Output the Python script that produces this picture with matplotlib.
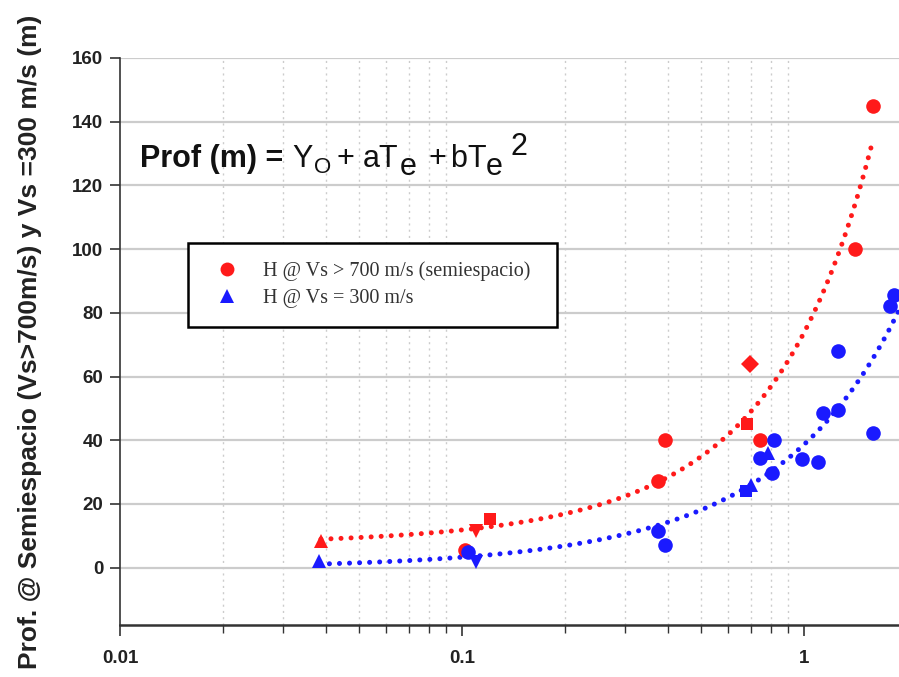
import numpy as np
import matplotlib
matplotlib.use("Agg")
import matplotlib.pyplot as plt
from matplotlib.lines import Line2D
from matplotlib.ticker import LogLocator, FixedLocator, FixedFormatter, NullFormatter

# ---------------- data ----------------
# Red series: H @ Vs > 700 m/s (semiespacio)
red_circle_x = [0.102, 0.374, 0.392, 0.745, 1.41, 1.59]
red_circle_y = [5.6, 27.2, 40.0, 40.0, 100.0, 145.0]
red_tri_x = [0.0387]
red_tri_y = [8.5]
red_vtri_x = [0.110]
red_vtri_y = [11.4]
red_square_x = [0.121, 0.684]
red_square_y = [15.2, 45.0]
red_diamond_x = [0.695]
red_diamond_y = [63.9]

# Blue series: H @ Vs = 300 m/s
blue_circle_x = [0.104, 0.374, 0.392, 0.745, 0.82, 0.81, 0.99, 1.10, 1.14, 1.26, 1.26, 1.59, 1.79, 1.84]
blue_circle_y = [4.9, 11.6, 7.2, 34.5, 40.0, 29.6, 34.1, 33.3, 48.7, 49.5, 68.0, 42.2, 82.3, 85.5]
blue_tri_x = [0.0383, 0.70, 0.786]
blue_tri_y = [2.2, 26.0, 35.9]
blue_vtri_x = [0.110]
blue_vtri_y = [1.7]
blue_square_x = [0.68]
blue_square_y = [24.0]

# Trend lines: Prof = Yo + a*Te + b*Te^2
red_fit = {"Yo": 7.2, "a": 44.0, "b": 22.4, "x0": 0.0387, "x1": 1.58}
blue_fit = {"Yo": -0.2, "a": 34.4, "b": 4.35, "x0": 0.0383, "x1": 1.90}

y_ticks = [0, 20, 40, 60, 80, 100, 120, 140, 160]
x_ticks = [0.01, 0.1, 1]
x_tick_labels = ["0.01", "0.1", "1"]
legend_labels = ["H @ Vs > 700 m/s (semiespacio)", "H @ Vs = 300 m/s"]
ylabel = "Prof. @ Semiespacio (Vs>700m/s) y Vs =300 m/s (m)"

# ---------------- figure ----------------
plt.rcParams["font.family"] = ["Liberation Sans", "DejaVu Sans"]

W, H = 899, 677
fig = plt.figure(figsize=(W / 100, H / 100), dpi=100)
ax = fig.add_axes([120 / W, 52 / H, 779 / W, 567 / H])

ax.set_xscale("log")
ax.set_xlim(0.01, 1.90)
ax.set_ylim(-18, 160)

RED = "#ff1a1a"
BLUE = "#1a1aff"

# grid
ax.set_yticks(y_ticks)
ax.yaxis.grid(True, color="#cccccc", linewidth=1.6, linestyle="-")
ax.xaxis.set_major_locator(FixedLocator(x_ticks))
ax.xaxis.set_major_formatter(FixedFormatter(x_tick_labels))
ax.xaxis.set_minor_locator(LogLocator(base=10, subs=np.arange(2, 10)))
ax.xaxis.set_minor_formatter(NullFormatter())
ax.xaxis.grid(True, which="minor", color="#cccccc", linewidth=1.0, linestyle=(0, (1.5, 3)))
ax.set_axisbelow(True)

# trend lines
for fit, col in [(red_fit, RED), (blue_fit, BLUE)]:
    xs = np.logspace(np.log10(fit["x0"]), np.log10(fit["x1"]), 400)
    ys = fit["Yo"] + fit["a"] * xs + fit["b"] * xs ** 2
    ax.plot(xs, ys, color=col, linewidth=3.6, linestyle=(0, (0.01, 2.0)),
            dash_capstyle="round", zorder=3)

ms = 10.5
groups = [
    (red_circle_x, red_circle_y, "o", RED, ms),
    (red_tri_x, red_tri_y, "^", RED, ms),
    (red_vtri_x, red_vtri_y, "v", RED, ms),
    (red_square_x, red_square_y, "s", RED, ms - 1.5),
    (red_diamond_x, red_diamond_y, "D", RED, ms - 1.5),
    (blue_circle_x, blue_circle_y, "o", BLUE, ms),
    (blue_tri_x, blue_tri_y, "^", BLUE, ms),
    (blue_vtri_x, blue_vtri_y, "v", BLUE, ms),
    (blue_square_x, blue_square_y, "s", BLUE, ms - 1.5),
]
for gx, gy, mk, col, s in groups:
    ax.plot(gx, gy, linestyle="none", marker=mk, color=col, markersize=s,
            markeredgewidth=0, zorder=4, clip_on=False)

# spines
for side in ["top", "right"]:
    ax.spines[side].set_visible(False)
ax.spines["left"].set_color("#333333")
ax.spines["left"].set_linewidth(1.2)
ax.spines["bottom"].set_color("#333333")
ax.spines["bottom"].set_linewidth(1.8)

ax.tick_params(axis="y", direction="out", length=7, width=1.2, color="#333333",
               labelsize=13.5, pad=5)
ax.tick_params(axis="x", which="major", direction="out", length=8, width=1.2,
               color="#333333", labelsize=13.5, pad=10)
ax.tick_params(axis="x", which="minor", direction="out", length=6, width=1.0,
               color="#333333")
for lab in ax.get_xticklabels() + ax.get_yticklabels():
    lab.set_fontweight("bold")
    lab.set_color("#222222")

ax.set_ylabel(ylabel, fontsize=19, fontweight="bold", color="#222222")
ax.yaxis.set_label_coords(-0.100, 0.50)

# equation  Prof (m) = Yo + aTe + bTe^2  (pieces placed in pixel positions)
def ptext(x, base_y, s, size, weight="normal"):
    fig.text(x / W, 1 - base_y / H, s, fontsize=size, fontweight=weight,
             ha="left", va="baseline", color="#111111")

ptext(140, 167, "Prof (m) =", 22, "bold")
ptext(292, 167, "Y", 22)
ptext(314, 173, "O", 16)
ptext(336, 167, "+", 22)
ptext(363, 167, "aT", 22)
ptext(400, 175, "e", 22)
ptext(428, 167, "+", 22)
ptext(450, 167, "b", 22)
ptext(467, 167, "T", 22)
ptext(486, 175, "e", 22)
ptext(510, 155, "2", 22)

# legend
handles = [
    Line2D([], [], linestyle="none", marker="o", color=RED, markersize=10, markeredgewidth=0),
    Line2D([], [], linestyle="none", marker="^", color=BLUE, markersize=10, markeredgewidth=0),
]
leg = ax.legend(handles, legend_labels, loc="upper left",
                bbox_to_anchor=(0.0873, 0.526, 0.474, 0.148), mode="expand",
                borderaxespad=0, fancybox=False, framealpha=1, edgecolor="black",
                prop={"family": ["Liberation Serif"], "size": 14.5},
                borderpad=0.93, labelspacing=0.4, handletextpad=0.73, handlelength=2.04)
leg.get_frame().set_linewidth(1.8)
for t in leg.get_texts():
    t.set_color("#333333")

fig.savefig("out.png", dpi=100)
